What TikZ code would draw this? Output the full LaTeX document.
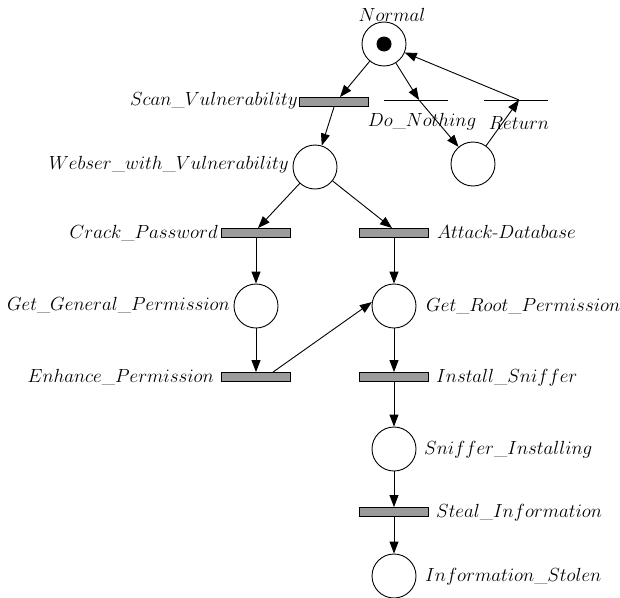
\documentclass[tikz,border=0pt]{standalone}
\usetikzlibrary{arrows.meta}
\definecolor{tgray}{RGB}{155,155,155}
\begin{document}
\begin{tikzpicture}[x=1pt,y=-1pt,
  place/.style={draw,circle,minimum size=44pt,inner sep=0pt,line width=0.9pt},
  trans/.style={draw,rectangle,fill=tgray,minimum width=69pt,minimum height=9pt,inner sep=0pt,line width=0.9pt},
  bar/.style={minimum width=63pt,minimum height=0pt,inner sep=0pt},
  arc/.style={line width=0.9pt,-{Triangle[length=12pt,width=9pt]}},
  lab/.style={inner sep=0pt,font=\LARGE,scale=1.10}
]
\useasboundingbox (0,0) rectangle (620,597);
% places
\node[place] (normal) at (384,44) {};
\fill (normal) circle (7.5pt);
\node[place] (webser) at (315,167) {};
\node[place] (dnplace) at (473,164) {};
\node[place] (getgen) at (256,306) {};
\node[place] (getroot) at (394,306) {};
\node[place] (sniffer) at (394,449) {};
\node[place] (stolen) at (394,576) {};
% transitions
\node[trans] (scan) at (334,102) {};
\node[trans] (crack) at (256,233) {};
\node[trans] (attack) at (394,233) {};
\node[trans] (enh) at (256,377) {};
\node[trans] (install) at (394,377) {};
\node[trans] (steal) at (394,512) {};
\node[bar] (dn) at (416,100) {};
\node[bar] (ret) at (516,100) {};
\draw[line width=0.9pt] (dn.west) -- (dn.east);
\draw[line width=0.9pt] (ret.west) -- (ret.east);
% labels
\node[lab,anchor=south] (lnormal) at (392,22) {$Normal$};
\node[lab,anchor=east] (lscan) at (298,101) {$Scan\_Vulnerability$};
\node[lab] (ldn) at (422,122) {$Do\_Nothing$};
\node[lab] (lret) at (519,123) {$Return$};
\node[lab,anchor=east] (lweb) at (289,165) {$Webser\_with\_Vulnerability$};
\node[lab,anchor=east] (lcrack) at (218,233) {$Crack\_Password$};
\node[lab,anchor=west] (lattack) at (437,232) {$Attack$-$Database$};
\node[lab,anchor=east] (lgetgen) at (230,305) {$Get\_General\_Permission$};
\node[lab,anchor=west] (lgetroot) at (426,306) {$Get\_Root\_Permission$};
\node[lab,anchor=east] (lenh) at (214,377) {$Enhance\_Permission$};
\node[lab,anchor=west] (linstall) at (436,378) {$Install\_Sniffer$};
\node[lab,anchor=west] (lsniffer) at (424,450) {$Sniffer\_Installing$};
\node[lab,anchor=west] (lsteal) at (436,513) {$Steal\_Information$};
\node[lab,anchor=west] (lstolen) at (425,577) {$Information\_Stolen$};
% arcs
\draw[arc] (normal) -- ([xshift=6pt]scan.north);
\draw[arc] (scan.south) -- (webser);
\draw[arc] (normal) -- ([xshift=3pt]dn.center);
\draw[arc] ([xshift=3pt]dn.center) -- (dnplace);
\draw[arc] (dnplace) -- ([xshift=3pt]ret.center);
\draw[arc] ([xshift=3pt]ret.center) -- (normal);
\draw[arc] (webser) -- ([xshift=2pt]crack.north);
\draw[arc] (webser) -- ([xshift=-2pt]attack.north);
\draw[arc] (crack.south) -- (getgen);
\draw[arc] (attack.south) -- (getroot);
\draw[arc] (getgen) -- (enh.north);
\draw[arc] ([xshift=17pt]enh.north) -- (getroot.170);
\draw[arc] (getroot) -- (install.north);
\draw[arc] (install.south) -- (sniffer);
\draw[arc] (sniffer) -- (steal.north);
\draw[arc] (steal.south) -- (stolen);
\end{tikzpicture}
\end{document}
